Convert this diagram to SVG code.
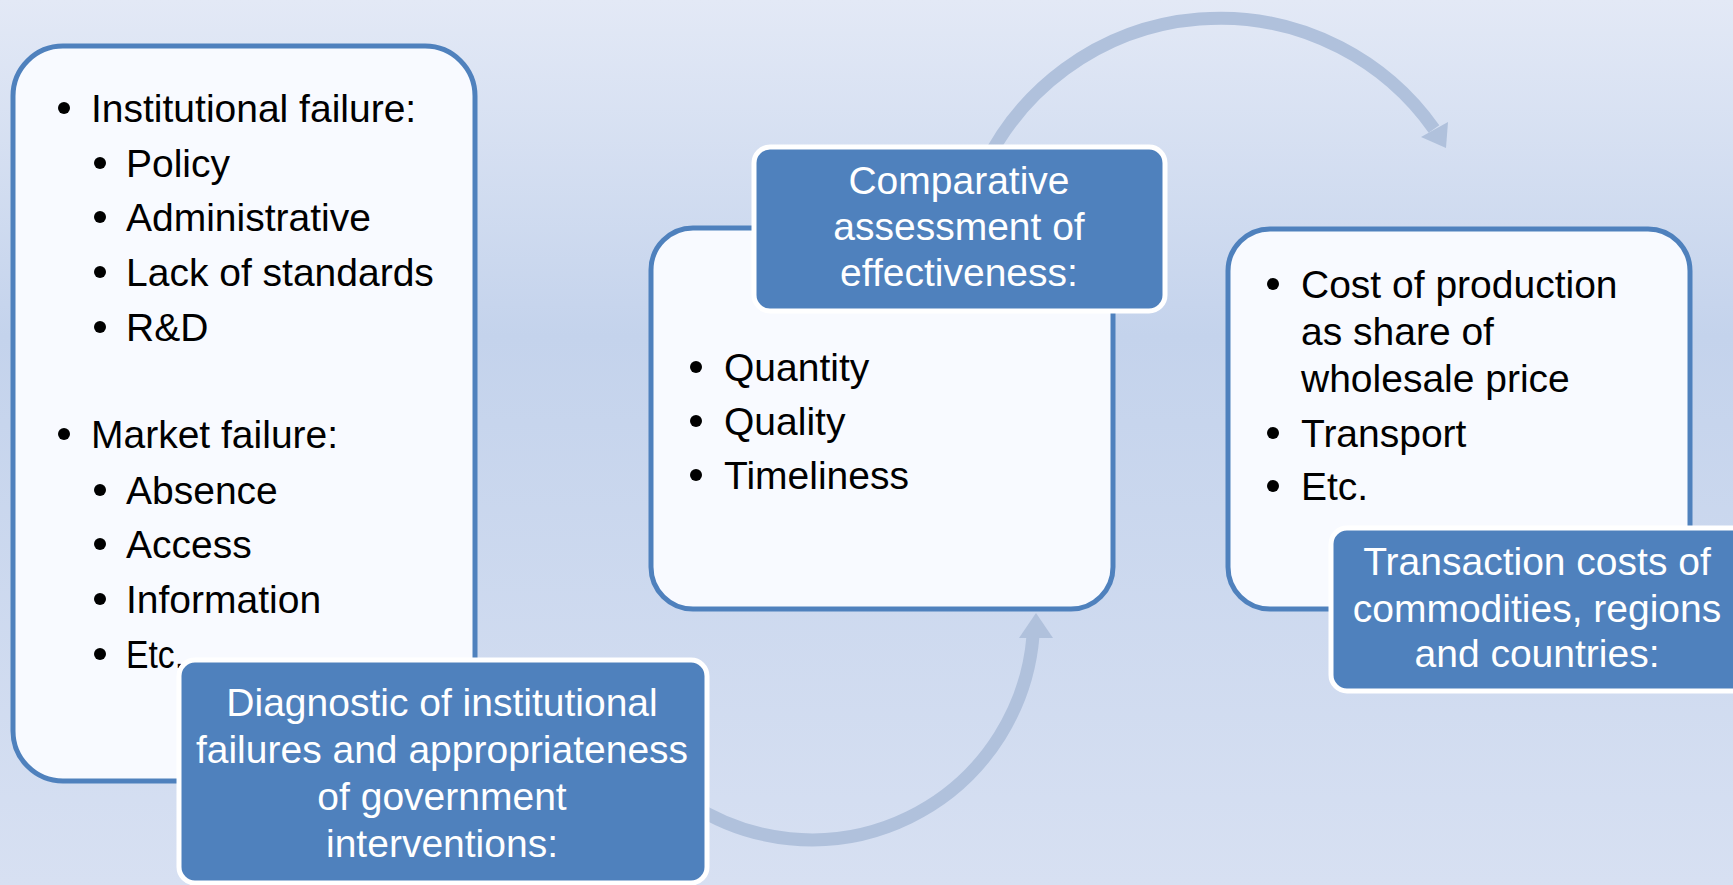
<svg xmlns="http://www.w3.org/2000/svg" width="1733" height="885" viewBox="0 0 1733 885">
<defs>
<linearGradient id="bg" x1="0" y1="0" x2="0" y2="1">
<stop offset="0" stop-color="#e3e9f6"/>
<stop offset="0.38" stop-color="#c4d3ec"/>
<stop offset="1" stop-color="#d7e0f2"/>
</linearGradient>
<style>
.wbox{fill:#f8faff;stroke:#4f81bd;stroke-width:5}
.bbox{fill:#4f81bd;stroke:#ffffff;stroke-width:5}
.t{font-family:"Liberation Sans",Arial,sans-serif;font-size:39px;fill:#000000}
.w{font-family:"Liberation Sans",Arial,sans-serif;font-size:39px;fill:#ffffff;text-anchor:middle}
.dot{fill:#000000}
.arc{fill:none;stroke:#b0c1dc;stroke-width:13}
.head{fill:#b0c1dc}
</style>
</defs>
<rect x="0" y="0" width="1733" height="885" fill="url(#bg)"/>
<g id="connectors">
<path class="arc" d="M 985 164.6 A 262 262 0 0 1 1434 129"/>
<polygon class="head" points="1446,148 1421,137 1448,122"/>
<path class="arc" d="M 690 803.5 A 222 222 0 0 0 1033 636"/>
<polygon class="head" points="1036,613 1019,638 1053,638"/>
</g>
<g id="node-left">
<rect class="wbox" x="13" y="46" width="462" height="735" rx="50" ry="50"/>
<circle class="dot" cx="64" cy="108" r="6"/><text class="t" x="91" y="122">Institutional failure:</text>
<circle class="dot" cx="100" cy="163" r="6"/><text class="t" x="126" y="177">Policy</text>
<circle class="dot" cx="100" cy="217" r="6"/><text class="t" x="126" y="231">Administrative</text>
<circle class="dot" cx="100" cy="272" r="6"/><text class="t" x="126" y="286">Lack of standards</text>
<circle class="dot" cx="100" cy="327" r="6"/><text class="t" x="126" y="341">R&amp;D</text>
<circle class="dot" cx="64" cy="434" r="6"/><text class="t" x="91" y="448">Market failure:</text>
<circle class="dot" cx="100" cy="490" r="6"/><text class="t" x="126" y="504">Absence</text>
<circle class="dot" cx="100" cy="544" r="6"/><text class="t" x="126" y="558">Access</text>
<circle class="dot" cx="100" cy="599" r="6"/><text class="t" x="126" y="613">Information</text>
<circle class="dot" cx="100" cy="654" r="6"/><text class="t" x="126" y="668" textLength="58" lengthAdjust="spacingAndGlyphs">Etc.</text>
</g>
<g id="node-diagnostic">
<rect class="bbox" x="179" y="660" width="528" height="223" rx="16" ry="16"/>
<text class="w" x="442" y="716">Diagnostic of institutional</text>
<text class="w" x="442" y="763">failures and appropriateness</text>
<text class="w" x="442" y="810">of government</text>
<text class="w" x="442" y="857">interventions:</text>
</g>
<g id="node-middle">
<rect class="wbox" x="651" y="228" width="462" height="381" rx="42" ry="42"/>
<circle class="dot" cx="696" cy="367" r="6"/><text class="t" x="724" y="381">Quantity</text>
<circle class="dot" cx="696" cy="421" r="6"/><text class="t" x="724" y="435">Quality</text>
<circle class="dot" cx="696" cy="475" r="6"/><text class="t" x="724" y="489">Timeliness</text>
</g>
<g id="node-comparative">
<rect class="bbox" x="754" y="147" width="411" height="164" rx="16" ry="16"/>
<text class="w" x="959" y="194">Comparative</text>
<text class="w" x="959" y="240">assessment of</text>
<text class="w" x="959" y="286">effectiveness:</text>
</g>
<g id="node-right">
<rect class="wbox" x="1228" y="229" width="462" height="380" rx="42" ry="42"/>
<circle class="dot" cx="1273" cy="284" r="6"/><text class="t" x="1301" y="298">Cost of production</text>
<text class="t" x="1301" y="345">as share of</text>
<text class="t" x="1301" y="392">wholesale price</text>
<circle class="dot" cx="1273" cy="433" r="6"/><text class="t" x="1301" y="447">Transport</text>
<circle class="dot" cx="1273" cy="486" r="6"/><text class="t" x="1301" y="500">Etc.</text>
</g>
<g id="node-transaction">
<rect class="bbox" x="1331" y="528" width="420" height="163" rx="16" ry="16"/>
<text class="w" x="1537" y="575">Transaction costs of</text>
<text class="w" x="1537" y="622">commodities, regions</text>
<text class="w" x="1537" y="667">and countries:</text>
</g>
</svg>
